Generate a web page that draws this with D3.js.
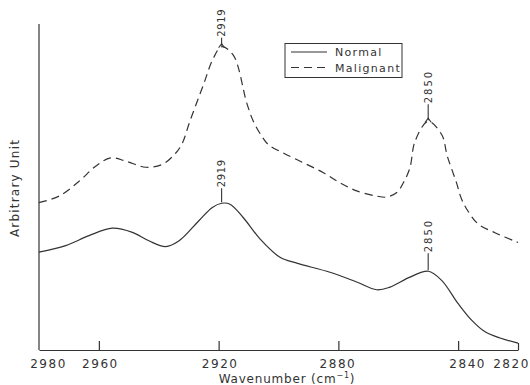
<!DOCTYPE html>
<html>
<head>
<meta charset="utf-8">
<script src="https://cdn.jsdelivr.net/npm/d3@7"></script>
<style>
  html, body { margin: 0; padding: 0; background: #fff; }
  svg { display: block; }
  text { font-family: "DejaVu Sans", sans-serif; fill: #333; }
</style>
</head>
<body>
<svg id="chart" width="530" height="385"></svg>
<script>
// ---- data (wavenumber in cm^-1, intensity in arbitrary units) ----
const normalWavenumber = [2980, 2971.1, 2963.3, 2955.5, 2948.8, 2943.3, 2937.7, 2933.2, 2926.6, 2922.1, 2919, 2916.2, 2911.8, 2906.2, 2899.5, 2893.9, 2882.8, 2873.9, 2867.2, 2862.8, 2856.1, 2850, 2845.5, 2840.0, 2835.5, 2831.0, 2826.0, 2820];
const normalIntensity  = [30.2, 32.2, 35.3, 37.6, 36.3, 33.7, 31.9, 33.7, 39.9, 44.0, 45.3, 45.0, 40.9, 34.3, 28.6, 26.8, 24.0, 21.0, 18.6, 19.4, 22.5, 24.3, 21.5, 14.3, 9.2, 5.6, 3.7, 2.1];

const malignantWavenumber = [2980, 2973.3, 2966.6, 2961.1, 2956.1, 2951.0, 2944.3, 2938.8, 2934.3, 2932.1, 2929.6, 2925.1, 2921.8, 2919, 2915.1, 2910.6, 2908.4, 2905.6, 2903.4, 2898.4, 2891.7, 2885.0, 2879.5, 2873.9, 2867.2, 2863.9, 2860.5, 2858.3, 2856.1, 2854.4, 2850, 2845.5, 2843.6, 2840.5, 2839.0, 2837.0, 2833.3, 2827.7, 2820];
const malignantIntensity  = [45.5, 47.5, 52.1, 56.7, 59.3, 58.3, 56.4, 57.3, 60.8, 63.9, 70.6, 81.8, 90.0, 93.6, 91.0, 76.2, 70.6, 66.0, 63.4, 60.8, 57.8, 54.7, 51.6, 49.1, 47.5, 47.2, 48.6, 51.6, 56.2, 64.4, 70.6, 66.5, 59.8, 51.5, 46.9, 43.3, 38.9, 36.2, 33.2];

const xTicks = [2980, 2960, 2920, 2880, 2840, 2820];
const peakLabels = [
  { series: "Malignant", wavenumber: 2919, label: "2919" },
  { series: "Malignant", wavenumber: 2850, label: "2850" },
  { series: "Normal", wavenumber: 2919, label: "2919" },
  { series: "Normal", wavenumber: 2850, label: "2850" }
];
const seriesNames = ["Normal", "Malignant"];

// ---- layout ----
const svg = d3.select("#chart");
const mLeft = 39, mRight = 518, mTop = 24, mBottom = 350;
const ink = "#333";

const x = d3.scaleLinear().domain([2980, 2820]).range([mLeft, mRight]);
const y = d3.scaleLinear().domain([0, 100]).range([mBottom, mTop + 2]);

const normal = normalWavenumber.map((w, i) => ({ w, v: normalIntensity[i] }));
const malignant = malignantWavenumber.map((w, i) => ({ w, v: malignantIntensity[i] }));

const line = d3.line().x(d => x(d.w)).y(d => y(d.v)).curve(d3.curveCatmullRom.alpha(0.5));

// y axis (plain line)
svg.append("line")
  .attr("x1", mLeft).attr("x2", mLeft).attr("y1", mTop).attr("y2", mBottom)
  .attr("stroke", ink).attr("stroke-width", 1.2);

// x axis
const xAxis = d3.axisBottom(x).tickValues(xTicks).tickSizeInner(-9).tickSizeOuter(0).tickPadding(0).tickFormat(d3.format("d"));
const gx = svg.append("g").attr("transform", `translate(0,${mBottom})`).call(xAxis);
gx.select(".domain").attr("stroke", ink).attr("stroke-width", 1.2);
gx.selectAll(".tick line").attr("stroke", ink).attr("stroke-width", 1.2);
gx.selectAll(".tick").filter(d => d === 2980).select("line").remove();
gx.selectAll(".tick").filter(d => d === 2820).select("line").attr("y2", -7);
const labelShift = { 2980: 9, 2960: 1, 2920: 1, 2880: -1, 2840: 9, 2820: -7 };
gx.selectAll(".tick text")
  .attr("y", 18).attr("dy", 0)
  .attr("dx", d => labelShift[d] || 0)
  .style("font-size", "12px").style("letter-spacing", "1.5px")
  .style("font-family", "DejaVu Sans, sans-serif")
  .attr("fill", ink);

// curves
svg.append("path").datum(normal).attr("d", line)
  .attr("fill", "none").attr("stroke", ink).attr("stroke-width", 1.2);
svg.append("path").datum(malignant).attr("d", line)
  .attr("fill", "none").attr("stroke", ink).attr("stroke-width", 1.2)
  .attr("stroke-dasharray", "8,5");

// peak markers
const dataBy = { Normal: normal, Malignant: malignant };
const stemLen = { "Malignant2919": 9, "Malignant2850": 17, "Normal2919": 15, "Normal2850": 18 };
peakLabels.forEach(p => {
  const pt = dataBy[p.series].find(d => d.w === p.wavenumber);
  const px = x(pt.w), py = y(pt.v);
  const s = stemLen[p.series + p.wavenumber];
  const g = svg.append("g");
  g.append("line").attr("x1", px).attr("x2", px).attr("y1", py - 1).attr("y2", py - s)
    .attr("stroke", ink).attr("stroke-width", 1.1);
  if (p.series === "Malignant") {
    g.append("path")
      .attr("d", `M${px - 3},${py + 1} Q${px},${py - 3} ${px},${py - 3} Q${px},${py - 3} ${px + 3},${py + 1}`)
      .attr("fill", "none").attr("stroke", ink).attr("stroke-width", 1.1);
  }
  g.append("text")
    .attr("transform", `translate(${px + 3.5},${py - s - 1}) rotate(-90)`)
    .attr("text-anchor", "start")
    .style("font-size", "10px")
    .style("letter-spacing", p.label === "2850" ? "2px" : "0.6px")
    .text(p.label);
});

// legend
const lg = svg.append("g");
lg.append("rect").attr("x", 285).attr("y", 43.5).attr("width", 117).attr("height", 34)
  .attr("fill", "#fff").attr("stroke", ink).attr("stroke-width", 1);
seriesNames.forEach((name, i) => {
  const ly = 52 + i * 15.5;
  lg.append("line").attr("x1", 291).attr("x2", 327).attr("y1", ly).attr("y2", ly)
    .attr("stroke", ink).attr("stroke-width", 1.1)
    .attr("stroke-dasharray", name === "Malignant" ? "8,5" : null);
  lg.append("text").attr("x", 335).attr("y", ly + 4)
    .style("font-size", "11px").style("letter-spacing", "1.3px")
    .text(name);
});

// axis titles
svg.append("text")
  .attr("transform", "translate(19,188) rotate(-90)")
  .attr("text-anchor", "middle")
  .style("font-size", "12px").style("letter-spacing", "1.2px")
  .text("Arbitrary Unit");

const xt = svg.append("text")
  .attr("x", 287).attr("y", 383)
  .attr("text-anchor", "middle")
  .style("font-size", "12px").style("letter-spacing", "0.8px");
xt.append("tspan").text("Wavenumber (cm");
xt.append("tspan").attr("dy", -5).style("font-size", "8px").text("\u22121");
xt.append("tspan").attr("dy", 5).text(")");
</script>
</body>
</html>
